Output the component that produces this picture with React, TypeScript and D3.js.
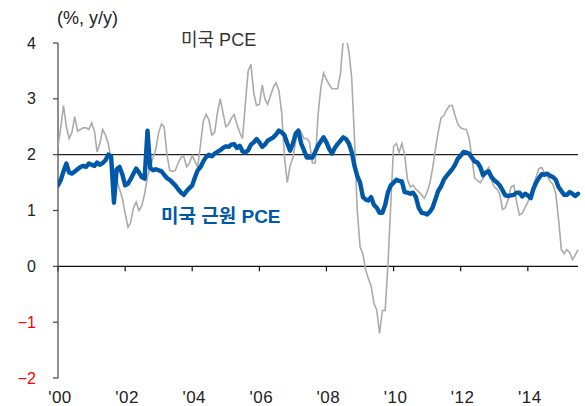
import React from "react";
import * as d3 from "d3";

const startYear = 2000;
const xTickLabels = ["'00", "'02", "'04", "'06", "'08", "'10", "'12", "'14"];
const yTicks = [-2, -1, 0, 1, 2, 3, 4];

// US core PCE, % y/y, monthly from Jan 2000
const corePce = [
  1.45, 1.55, 1.70, 1.84, 1.68, 1.66, 1.70, 1.74, 1.78, 1.80, 1.78, 1.84,
  1.82, 1.80, 1.86, 1.82, 1.85, 1.90, 2.00, 1.97, 1.14, 1.74, 1.78, 1.65,
  1.45, 1.48, 1.56, 1.66, 1.75, 1.68, 1.60, 1.57, 2.43, 1.76, 1.72, 1.74,
  1.72, 1.70, 1.64, 1.58, 1.55, 1.50, 1.45, 1.38, 1.32, 1.28, 1.35, 1.40,
  1.45, 1.60, 1.72, 1.78, 1.88, 1.96, 2.00, 1.97, 2.02, 2.05, 2.08, 2.12,
  2.15, 2.14, 2.18, 2.19, 2.12, 2.16, 2.06, 2.04, 2.08, 2.18, 2.22, 2.28,
  2.22, 2.14, 2.18, 2.25, 2.28, 2.31, 2.36, 2.43, 2.40, 2.35, 2.20, 2.07,
  2.20, 2.38, 2.43, 2.20, 2.08, 1.95, 1.95, 1.95, 2.05, 2.16, 2.24, 2.31,
  2.22, 2.10, 2.02, 2.12, 2.19, 2.25, 2.31, 2.28, 2.20, 2.05, 1.80, 1.62,
  1.50, 1.24, 1.20, 1.18, 1.24, 1.10, 1.05, 0.96, 0.96, 1.10, 1.33, 1.45,
  1.50, 1.55, 1.53, 1.52, 1.33, 1.32, 1.30, 1.32, 1.24, 1.05, 0.96, 0.95,
  0.93, 0.98, 1.05, 1.20, 1.35, 1.43, 1.55, 1.62, 1.68, 1.74, 1.82, 1.93,
  1.98, 2.05, 2.04, 2.02, 1.95, 1.88, 1.86, 1.78, 1.63, 1.68, 1.70, 1.60,
  1.54, 1.50, 1.45, 1.36, 1.27, 1.26, 1.27, 1.28, 1.32, 1.32, 1.25, 1.30,
  1.27, 1.22, 1.38, 1.50, 1.58, 1.65, 1.64, 1.66, 1.62, 1.60, 1.55, 1.42,
  1.35, 1.28, 1.28, 1.33, 1.30, 1.26, 1.30,
];

// US headline PCE, % y/y, monthly from Jan 2000
const headlinePce = [
  2.15, 2.50, 2.88, 2.50, 2.29, 2.40, 2.68, 2.42, 2.45, 2.48, 2.48, 2.45,
  2.57, 2.42, 2.05, 2.20, 2.45, 2.35, 2.20, 1.92, 1.72, 1.55, 1.38, 1.22,
  0.95, 0.70, 0.78, 1.05, 1.15, 1.00, 1.08, 1.30, 1.60, 1.78, 1.95, 2.10,
  2.40, 2.55, 2.50, 2.00, 1.72, 1.70, 1.72, 1.85, 1.95, 1.97, 1.78, 1.85,
  1.98, 1.88, 1.77, 2.20, 2.60, 2.72, 2.62, 2.35, 2.40, 2.75, 3.00, 2.75,
  2.50, 2.55, 2.65, 2.72, 2.55, 2.40, 2.29, 2.90, 3.50, 3.62, 3.10, 2.88,
  2.90, 3.25, 3.00, 2.90, 3.05, 3.20, 3.29, 3.15, 2.75, 1.95, 1.50, 1.80,
  1.95, 2.25, 2.45, 2.40, 2.29, 2.29, 2.22, 1.85, 1.85, 2.70, 3.20, 3.46,
  3.35, 3.25, 3.18, 3.18, 3.18, 3.45, 4.05, 4.10, 3.85, 3.40, 2.30, 1.00,
  0.35, 0.22, -0.05, -0.22, -0.35, -0.66, -0.78, -1.20, -0.79, -0.79, 0.05, 1.10,
  2.15, 2.20, 2.04, 2.20, 2.00, 1.55, 1.42, 1.45, 1.38, 1.34, 1.28, 1.22,
  1.33, 1.50, 1.75, 2.10, 2.40, 2.66, 2.70, 2.80, 2.88, 2.88, 2.70, 2.55,
  2.48, 2.46, 2.45, 2.30, 1.95, 1.58, 1.54, 1.50, 1.58, 1.70, 1.77, 1.55,
  1.42, 1.38, 1.30, 1.02, 1.05, 1.20, 1.42, 1.45, 1.15, 0.92, 0.95, 1.05,
  1.15, 1.30, 1.45, 1.60, 1.75, 1.77, 1.68, 1.62, 1.52, 1.47, 1.30, 0.85,
  0.30, 0.23, 0.30, 0.25, 0.12, 0.20, 0.30,
];

const W = 585;
const H = 406;
const left = 58;
const right = 578;
const top = 43;
const bottom = 378;
const FONT = "'Liberation Sans', Arial, 'Noto Sans CJK KR', sans-serif";
const BLUE = "#0058A8";
const GRAY = "#ABABAB";

export default function App() {
  const dateOf = (i: number) => new Date(startYear, i, 1);
  const x = d3
    .scaleTime()
    .domain([new Date(startYear, 0, 1), dateOf(corePce.length - 1)])
    .range([left, right]);
  const y = d3.scaleLinear().domain([-2, 4]).range([bottom, top]);

  const line = d3
    .line<number>()
    .x((_, i) => x(dateOf(i)))
    .y((d) => y(d));

  const tickDates = xTickLabels.map((_, i) => new Date(startYear + i * 2, 0, 1));

  return (
    <svg
      width={W}
      height={H}
      style={{ position: "absolute", left: 0, top: 0, background: "#fff" }}
      fontFamily={FONT}
    >
      <defs>
        <clipPath id="plotClip">
          <rect x={left} y={top} width={right - left + 4} height={bottom - top} />
        </clipPath>
      </defs>

      {/* reference line at 2 */}
      <line x1={left} x2={right} y1={y(2)} y2={y(2)} stroke="#222" strokeWidth={1.2} />
      {/* zero line */}
      <line x1={left} x2={right} y1={y(0)} y2={y(0)} stroke="#111" strokeWidth={1.3} />
      {/* x ticks */}
      {tickDates.map((d, i) => (
        <g key={i}>
          <line x1={x(d)} x2={x(d)} y1={y(0)} y2={y(0) + 5} stroke="#111" strokeWidth={1.2} />
          <text
            x={x(d) + 2}
            y={403}
            fontSize={17}
            letterSpacing={0.5}
            textAnchor="middle"
            fill="#222"
          >
            {xTickLabels[i]}
          </text>
        </g>
      ))}
      {/* y axis */}
      <line x1={left} x2={left} y1={top} y2={bottom} stroke="#444" strokeWidth={1.2} />
      {yTicks.map((t) => (
        <g key={t}>
          <line x1={left - 5} x2={left} y1={y(t)} y2={y(t)} stroke="#444" strokeWidth={1.2} />
          <text
            x={36}
            y={y(t) + 5.5}
            fontSize={16}
            textAnchor="end"
            fill={t < 0 ? "#FF0000" : "#222"}
          >
            {t < 0 ? `\u2212${Math.abs(t)}` : t}
          </text>
        </g>
      ))}

      <g clipPath="url(#plotClip)">
        <path d={line(headlinePce) || ""} fill="none" stroke={GRAY} strokeWidth={1.6} />
        <path
          d={line(corePce) || ""}
          fill="none"
          stroke={BLUE}
          strokeWidth={4.4}
          strokeLinejoin="round"
          strokeLinecap="round"
        />
      </g>

      <text x={57} y={24} fontSize={18} fill="#222">
        (%, y/y)
      </text>
      <text x={181} y={46} fontSize={18} fill="#333">
        미국 PCE
      </text>
      <text x={161} y={223} fontSize={19} fontWeight="bold" fill={BLUE}>
        미국 근원 PCE
      </text>
    </svg>
  );
}
